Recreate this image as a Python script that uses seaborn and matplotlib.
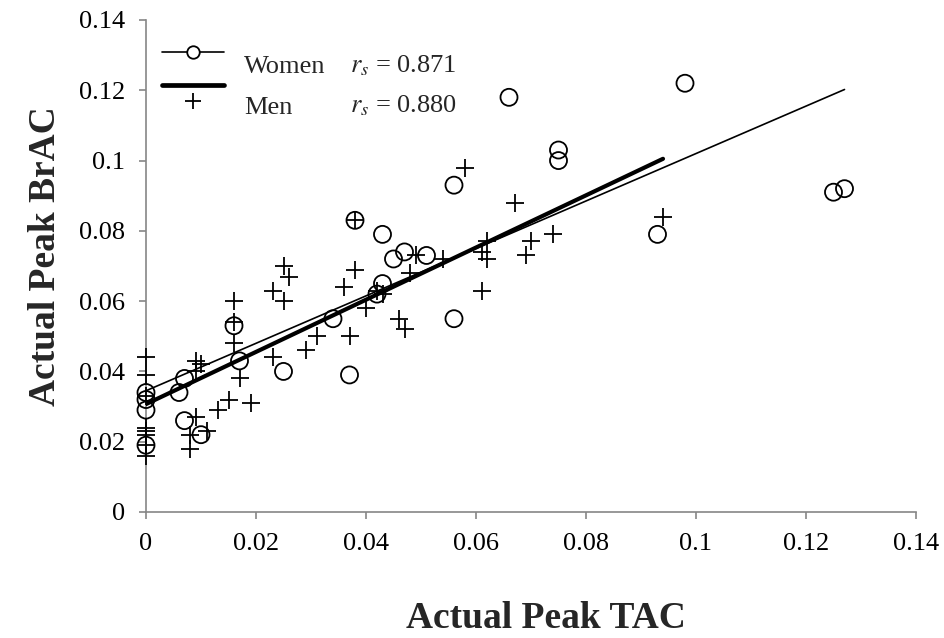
import numpy as np
import pandas as pd
import matplotlib
matplotlib.use("Agg")
import matplotlib.pyplot as plt
import seaborn as sns
from matplotlib.legend_handler import HandlerBase
from matplotlib.lines import Line2D

# ---------------- data ----------------
women_tac = [0, 0, 0, 0, 0.006, 0.007, 0.007, 0.010, 0.016, 0.017, 0.025, 0.034,
             0.037, 0.038, 0.042, 0.043, 0.043, 0.045, 0.047, 0.051, 0.056, 0.056,
             0.066, 0.075, 0.075, 0.093, 0.098, 0.125, 0.127]
women_brac = [0.034, 0.032, 0.029, 0.019, 0.034, 0.038, 0.026, 0.022, 0.053, 0.043,
              0.040, 0.055, 0.039, 0.083, 0.062, 0.065, 0.079, 0.072, 0.074, 0.073,
              0.093, 0.055, 0.118, 0.103, 0.100, 0.079, 0.122, 0.091, 0.092]

men_tac = [0, 0, 0, 0, 0, 0, 0, 0,
           0.008, 0.008, 0.009, 0.009, 0.010, 0.009, 0.011, 0.013, 0.015, 0.016,
           0.016, 0.016, 0.017, 0.019, 0.023, 0.023, 0.025, 0.025, 0.026, 0.029,
           0.031, 0.036, 0.037, 0.038, 0.038, 0.040, 0.042, 0.043, 0.046, 0.047,
           0.048, 0.049, 0.054, 0.058, 0.061, 0.061, 0.062, 0.062, 0.067, 0.069,
           0.070, 0.074, 0.094]
men_brac = [0.044, 0.039, 0.033, 0.024, 0.023, 0.022, 0.019, 0.016,
            0.018, 0.022, 0.027, 0.043, 0.042, 0.040, 0.023, 0.029, 0.032, 0.060,
            0.054, 0.048, 0.038, 0.031, 0.044, 0.063, 0.070, 0.060, 0.067, 0.046,
            0.050, 0.064, 0.050, 0.083, 0.069, 0.058, 0.063, 0.062, 0.055, 0.052,
            0.068, 0.073, 0.072, 0.098, 0.074, 0.063, 0.077, 0.072, 0.088, 0.073,
            0.077, 0.079, 0.084]

# linear trend lines (intercept, slope)
women_fit = (0.0345, 0.675)
men_fit = (0.0307, 0.7426)
women_rs = "0.871"
men_rs = "0.880"

tick_values = [0, 0.02, 0.04, 0.06, 0.08, 0.1, 0.12, 0.14]
tick_labels = ["0", "0.02", "0.04", "0.06", "0.08", "0.1", "0.12", "0.14"]

# ---------------- style ----------------
sns.set_theme(style="white")
plt.rcParams["font.family"] = ["Liberation Serif", "DejaVu Serif"]
plt.rcParams["mathtext.fontset"] = "stix"

W, H = 944, 638
fig = plt.figure(figsize=(W / 100, H / 100), dpi=100)
ax = fig.add_axes([146 / W, 1 - 512 / H, 770 / W, 492 / H])

women = pd.DataFrame({"tac": women_tac, "brac": women_brac})
men = pd.DataFrame({"tac": men_tac, "brac": men_brac})

sns.scatterplot(data=women, x="tac", y="brac", marker="o", s=150,
                facecolor="none", edgecolor="black", linewidth=1.3,
                ax=ax, clip_on=False, zorder=3)
sns.scatterplot(data=men, x="tac", y="brac", marker="+", s=170,
                color="black", linewidth=1.3, ax=ax, clip_on=False, zorder=3)

wx = np.array([min(women_tac), max(women_tac)])
mx = np.array([min(men_tac), max(men_tac)])
sns.lineplot(x=wx, y=women_fit[0] + women_fit[1] * wx, color="black",
             linewidth=1.2, ax=ax, zorder=4)
sns.lineplot(x=mx, y=men_fit[0] + men_fit[1] * mx, color="black",
             linewidth=3.0, ax=ax, zorder=4, solid_capstyle="round")

ax.set_xlim(0, 0.14)
ax.set_ylim(0, 0.14)
ax.set_xticks(tick_values)
ax.set_xticklabels(tick_labels)
ax.set_yticks(tick_values)
ax.set_yticklabels(tick_labels)

grey = "#868686"
for side in ["top", "right"]:
    ax.spines[side].set_visible(False)
for side in ["left", "bottom"]:
    ax.spines[side].set_color(grey)
    ax.spines[side].set_linewidth(1.2)
ax.tick_params(axis="both", which="major", direction="out", length=5,
               width=1.2, color=grey, labelsize=19, labelcolor="black", pad=10,
               bottom=True, left=True)

ax.set_xlabel("Actual Peak TAC", fontsize=27, fontweight="bold")
ax.xaxis.label.set_va("baseline")
ax.xaxis.set_label_coords((546 - 146) / 770, (512 - 628) / 492)
ax.set_ylabel("Actual Peak BrAC", fontsize=27, fontweight="bold")
ax.yaxis.label.set_va("baseline")
ax.yaxis.set_label_coords((55 - 146) / 770, (512 - 256) / 492)


# ---------------- legend ----------------
class KeyHandler(HandlerBase):
    def __init__(self, parts):
        super().__init__()
        self.parts = parts

    def create_artists(self, legend, orig_handle, xdescent, ydescent,
                       width, height, fontsize, trans):
        arts = []
        yc = height / 2 - ydescent
        for kind, dy, kw in self.parts:
            y = yc + dy * fontsize
            if kind == "line":
                a = Line2D([-xdescent, -xdescent + width], [y, y], **kw)
            else:
                a = Line2D([-xdescent + width / 2], [y], linestyle="none", **kw)
            a.set_transform(trans)
            arts.append(a)
        return arts


h_w = Line2D([], [], color="black")
h_m = Line2D([], [], color="black")
handler_w = KeyHandler([
    ("line", 0.45, dict(color="black", linewidth=1.2)),
    ("marker", 0.45, dict(marker="o", markersize=9, markerfacecolor="white",
                          markeredgecolor="black", markeredgewidth=1.3)),
])
handler_m = KeyHandler([
    ("line", 0.75, dict(color="black", linewidth=3.4)),
    ("marker", 0.12, dict(marker="+", markersize=12, color="black",
                          markeredgewidth=1.3)),
])
leg = ax.legend([h_w, h_m], ["Women", "Men"],
                handler_map={h_w: handler_w, h_m: handler_m},
                loc="upper left", bbox_to_anchor=(162 / W, 1 - 55 / H),
                bbox_transform=fig.transFigure, frameon=False, fontsize=19,
                handlelength=2.35, handletextpad=0.75, labelspacing=0.63,
                borderpad=0, borderaxespad=0)

fig.text(350 / W, 1 - 72.7 / H, r"$r_s$ = " + women_rs, fontsize=19,
         va="baseline", ha="left")
fig.text(350 / W, 1 - 112.7 / H, r"$r_s$ = " + men_rs, fontsize=19,
         va="baseline", ha="left")

fig.savefig("out.png", dpi=100, facecolor="white")
